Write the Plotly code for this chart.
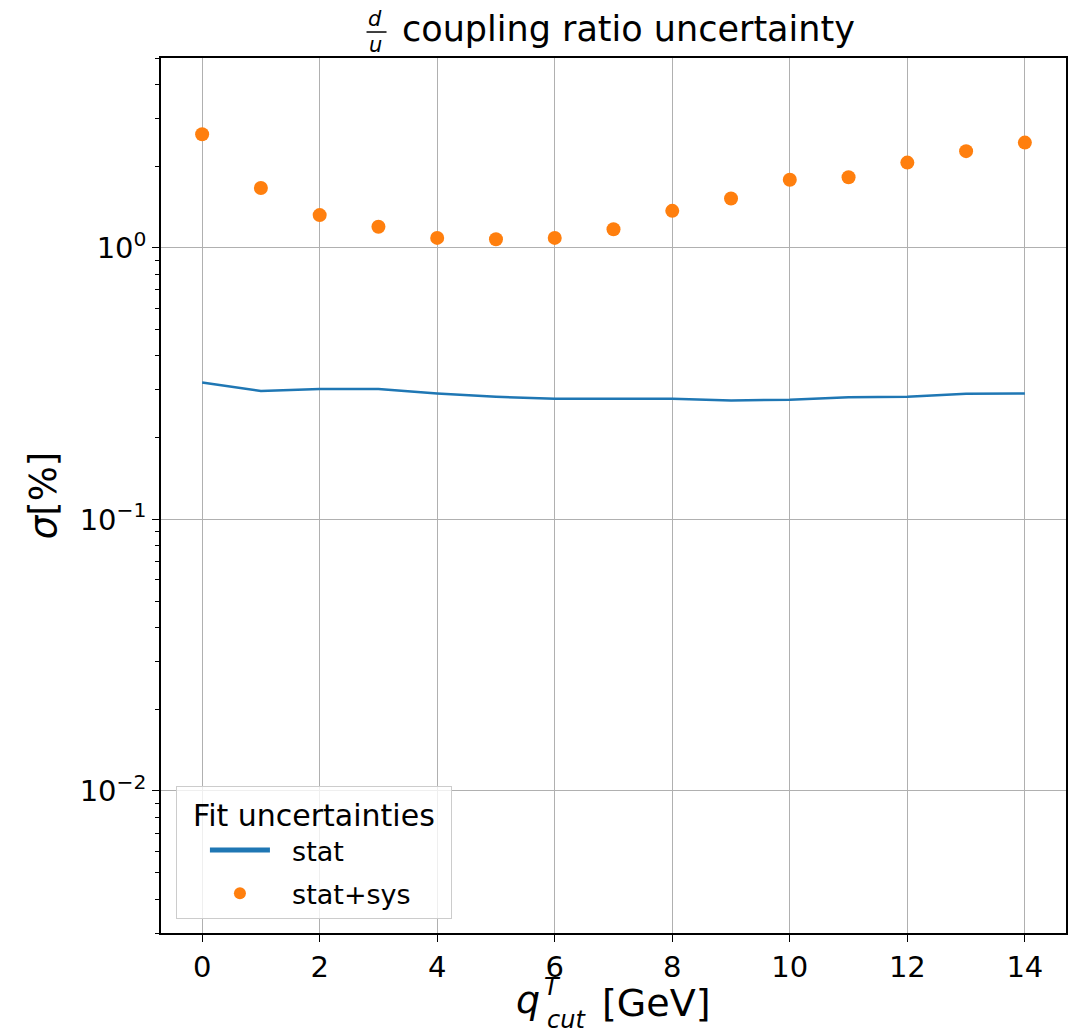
import math
import plotly.graph_objects as go

# q_T cut values [GeV]
qcut = [0, 1, 2, 3, 4, 5, 6, 7, 8, 9, 10, 11, 12, 13, 14]
# uncertainties in %
stat = [0.319, 0.297, 0.302, 0.302, 0.291, 0.283, 0.278, 0.278, 0.278,
        0.274, 0.276, 0.282, 0.283, 0.290, 0.291]
stat_sys = [2.62, 1.66, 1.32, 1.195, 1.088, 1.076, 1.088, 1.171, 1.368,
            1.52, 1.78, 1.82, 2.06, 2.27, 2.44]

ytick_vals = [0.01, 0.1, 1]
ytick_text = ["10<sup>\u22122</sup>", "10<sup>\u22121</sup>", "10<sup>0</sup>"]
# log minor ticks between the decades
yminor_vals = [m * 10 ** e for e in (-3, -2, -1, 0) for m in range(2, 10) if m * 10 ** e <= 5]

font = "DejaVu Sans"
pad = "\u00a0"

fig = go.Figure()
fig.add_trace(go.Scatter(
    x=qcut, y=stat, mode="lines", name=pad * 2 + "stat", legendgroup="a",
    line=dict(color="#1f77b4", width=2.5),
))
fig.add_trace(go.Scatter(
    x=qcut, y=stat_sys, mode="markers", name=pad * 2 + "stat+sys" + pad * 4, legendgroup="b",
    marker=dict(color="#ff7f0e", size=14),
))


def label(text, x, y, size):
    fig.add_annotation(text=text, x=x, y=y, xref="paper", yref="paper",
                       xanchor="center", yanchor="middle", showarrow=False,
                       font=dict(family=font, size=size, color="black"))


# the d/u fraction in front of the title
label("<i>d</i>", 0.2370, 1.0446, 21)
label("<i>u</i>", 0.2370, 1.0150, 21)
fig.add_shape(type="line", xref="paper", yref="paper", x0=0.2271, x1=0.2492,
              y0=1.0297, y1=1.0297, line=dict(color="black", width=1.5))

# x axis title q^T_cut [GeV], with T stacked over cut
label("<i>q</i>", 0.4057, -0.0766, 38)
label("<i>T</i>", 0.4322, -0.0614, 24)
label("<i>cut</i>", 0.4476, -0.0994, 24)
label("[GeV]", 0.5474, -0.0800, 38)

# the page body has an 8px margin, so the figure sits at (8, 8)
fig.update_layout(
    width=1064, height=1026,
    margin=dict(l=153, r=4, t=50, b=101),
    paper_bgcolor="white", plot_bgcolor="white",
    font=dict(family=font, color="black"),
    title=dict(text="coupling ratio uncertainty", xref="container", yref="container",
               x=394 / 1064, xanchor="left", y=1 - 21 / 1026, yanchor="middle",
               font=dict(size=35, family=font, color="black")),
    legend=dict(
        x=0.0165, y=0.016, xanchor="left", yanchor="bottom",
        bgcolor="rgba(255,255,255,0.8)", bordercolor="#cccccc", borderwidth=1,
        font=dict(size=27, family=font),
        title=dict(text="Fit uncertainties", side="top center", font=dict(size=30)),
        itemsizing="constant", itemwidth=60, indentation=28,
        traceorder="grouped", tracegroupgap=5,
    ),
    showlegend=True,
)

fig.update_xaxes(
    range=[-0.7, 14.7], tick0=0, dtick=2,
    showline=True, linecolor="black", linewidth=1.5, mirror=True,
    ticks="outside", ticklen=7, tickcolor="black",
    showgrid=True, gridcolor="#b0b0b0", gridwidth=1, zeroline=False,
    tickfont=dict(size=29),
)
fig.update_yaxes(
    type="log", range=[math.log10(0.003), math.log10(5)],
    tickvals=ytick_vals, ticktext=ytick_text,
    showline=True, linecolor="black", linewidth=1.5, mirror=True,
    ticks="outside", ticklen=7, tickcolor="black",
    minor=dict(tickvals=yminor_vals, ticks="outside", ticklen=4,
               tickcolor="black", showgrid=False),
    showgrid=True, gridcolor="#b0b0b0", gridwidth=1, zeroline=False,
    tickfont=dict(size=29),
    title=dict(text="<i>\u03c3</i>[%]", font=dict(size=37), standoff=12),
)

fig.write_html("out.html")
